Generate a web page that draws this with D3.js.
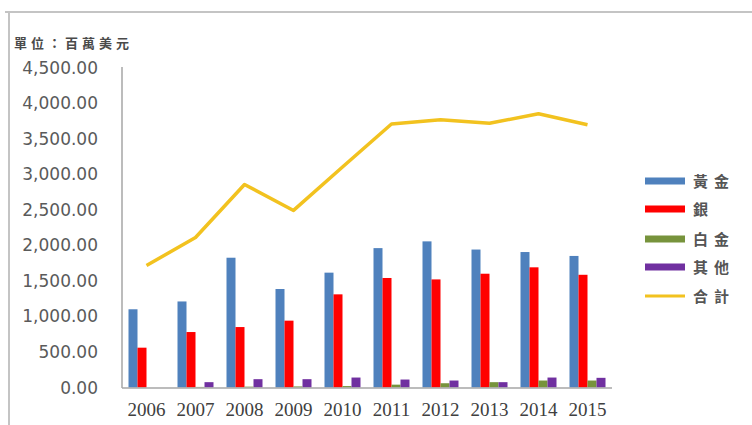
<!DOCTYPE html>
<html>
<head>
<meta charset="utf-8">
<script src="https://cdn.jsdelivr.net/npm/d3@7"></script>
<style>
  body { margin: 0; background: #fff; }
  svg { display: block; }
</style>
</head>
<body>
<div id="chart"></div>
<script>
var years = ["2006","2007","2008","2009","2010","2011","2012","2013","2014","2015"]
var gold = [1100,1210,1825,1385,1615,1960,2055,1940,1905,1850]
var silver = [560,780,850,940,1310,1540,1520,1600,1690,1585]
var platinum = [0,8,12,15,20,40,60,75,98,98]
var other = [0,75,117,117,140,112,98,75,140,136]
var total = [1715,2110,2855,2490,3100,3705,3765,3715,3850,3695]
var yTicks = [0,500,1000,1500,2000,2500,3000,3500,4000,4500]
var seriesNames = ["黃金","銀","白金","其他","合計"]
var colors = ["#4F81BD","#FF0000","#77933C","#7030A0","#F2C21F"]

var bars = [gold,silver,platinum,other]

var svg = d3.select("#chart").append("svg").attr("width",752).attr("height",425)

// frame
svg.append("line").attr("x1",5).attr("x2",752).attr("y1",12).attr("y2",12)
    .attr("stroke","#c4c4c4").attr("stroke-width",2)
svg.append("line").attr("x1",9).attr("x2",9).attr("y1",12).attr("y2",425)
    .attr("stroke","#c4c4c4").attr("stroke-width",2)

svg.append("text").text("單位：百萬美元").attr("x",14).attr("y",48)
    .attr("font-family","Noto Sans CJK TC").attr("font-size",13).attr("font-weight","bold")
    .attr("letter-spacing",4).attr("fill","#4a4a4a")

var x = d3.scaleBand().domain(years).range([122,612])
var y = d3.scaleLinear().domain([0,4500]).range([387.5,67.5])
var barW = 9

// y labels
svg.selectAll("text.ylab").data(yTicks).enter().append("text").attr("class","ylab")
    .attr("x",98).attr("y",function(d){return y(d)+6})
    .attr("text-anchor","end")
    .attr("font-family","DejaVu Sans").attr("font-size",17)
    .attr("fill","#5a5a5a")
    .text(function(d){return d3.format(",.2f")(d)})

// bars
bars.forEach(function(s,k){
    svg.selectAll("rect.s"+k).data(s).enter().append("rect").attr("class","s"+k)
        .attr("x",function(d,i){return x(years[i])+x.bandwidth()/2-2*barW+k*barW})
        .attr("y",function(d){return y(d)})
        .attr("width",barW)
        .attr("height",function(d){return y(0)-y(d)})
        .attr("fill",colors[k])
})

// axes lines
svg.append("line").attr("x1",122).attr("x2",122).attr("y1",67).attr("y2",388)
    .attr("stroke","#a6a6a6").attr("stroke-width",1.5)
svg.append("line").attr("x1",122).attr("x2",612).attr("y1",388).attr("y2",388)
    .attr("stroke","#a6a6a6").attr("stroke-width",1.5)

// total line
var line = d3.line()
    .x(function(d,i){return x(years[i])+x.bandwidth()/2})
    .y(function(d){return y(d)})
svg.append("path").datum(total).attr("d",line)
    .attr("fill","none").attr("stroke",colors[4]).attr("stroke-width",3.5)
    .attr("stroke-linejoin","round")

// x labels
svg.selectAll("text.xlab").data(years).enter().append("text").attr("class","xlab")
    .attr("x",function(d){return x(d)+x.bandwidth()/2}).attr("y",416)
    .attr("text-anchor","middle")
    .attr("font-family","Liberation Serif").attr("font-size",19)
    .attr("fill","#404040")
    .text(function(d){return d})

// legend
var legY = [181,209,239,267,296]
seriesNames.forEach(function(n,k){
    var g = svg.append("g")
    g.append("rect").attr("x",645).attr("y",legY[k]-(k==4?1.5:3.5))
        .attr("width",40).attr("height",k==4?3:7).attr("fill",colors[k])
    g.append("text").text(n).attr("x",693).attr("y",legY[k]+6)
        .attr("font-family","Noto Sans CJK TC").attr("font-size",15).attr("font-weight","bold")
        .attr("letter-spacing",6).attr("fill","#555")
})
</script>
</body>
</html>
